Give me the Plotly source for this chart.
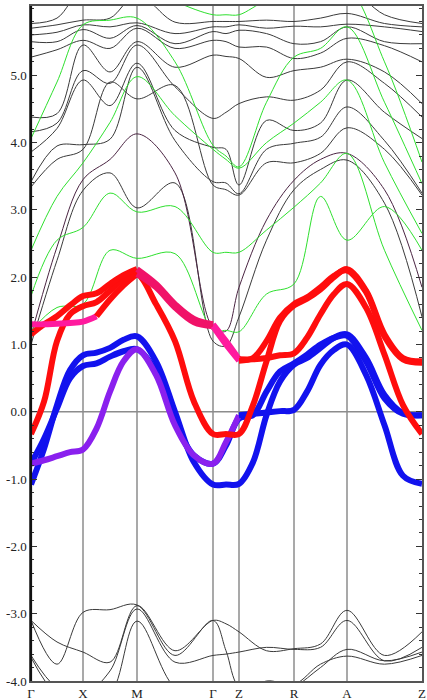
import plotly.graph_objects as go

# high-symmetry path (k distance along path)
K_LABELS = ["Γ", "X", "M", "Γ", "Z", "R", "A", "Z"]
K_NODES = [0, 52, 106, 182, 208, 263, 316, 391]

# k grids
K_FINE = [0, 13, 26, 39, 52, 65.5, 79, 92.5, 106, 125, 144, 163, 182, 195, 208,
          222, 235.5, 249, 263, 276, 289.5, 303, 316, 335, 353.5, 372, 391]
K_COARSE = [0, 26, 52, 79, 106, 144, 182, 195, 208, 235.5, 263, 289.5, 316, 353.5, 391]

# fat (projected) bands, fine grid
RED_1 = [-0.33, 0.15, 1.05, 1.45, 1.57, 1.63, 1.80, 1.97, 2.05, 1.60, 1.05, 0.15, -0.33, -0.33, -0.33,
         0.10, 0.75, 1.35, 1.58, 1.68, 1.82, 2.00, 2.12, 1.80, 1.15, 0.80, 0.75]
RED_2 = [1.15, 1.30, 1.42, 1.58, 1.72, 1.76, 1.90, 2.03, 2.12, 1.90, 1.60, 1.38, 1.30, 1.05, 0.78,
         0.78, 0.80, 0.84, 0.87, 1.10, 1.45, 1.75, 1.90, 1.55, 0.85, 0.10, -0.33]
PINK_1 = [1.30, 1.30, 1.31, 1.32, 1.34, 1.42, 1.67, 1.88, 2.05, 1.85, 1.55, 1.33, 1.27, 1.00, 0.76,
          0.80, 1.05, 1.40, 1.60, 1.70, 1.85, 2.02, 2.10, 1.78, 1.12, 0.78, 0.73]
BLUE_1 = [-1.08, -0.55, 0.10, 0.62, 0.84, 0.88, 0.95, 1.07, 1.12, 0.75, 0.00, -0.75, -1.08, -1.08, -1.07,
          -0.75, -0.05, 0.45, 0.70, 0.80, 0.95, 1.10, 1.15, 0.80, 0.25, -0.02, -0.05]
BLUE_2 = [-0.77, -0.40, 0.05, 0.50, 0.68, 0.72, 0.82, 0.90, 0.93, 0.60, -0.15, -0.65, -0.77, -0.50, -0.10,
          -0.05, 0.30, 0.60, 0.72, 0.85, 1.00, 1.10, 1.13, 0.75, 0.20, -0.03, -0.05]
PURPLE_1 = [-0.77, -0.72, -0.66, -0.60, -0.56, -0.25, 0.30, 0.75, 0.93, 0.55, -0.20, -0.65, -0.77, -0.45, -0.05,
            -0.03, -0.01, 0.01, 0.03, 0.30, 0.70, 0.92, 1.00, 0.55, -0.20, -0.95, -1.07]

# thin bands, coarse grid (gray)
GRAY_UP = [
    [1.00, 2.25, 3.29, 3.55, 3.03, 3.40, 1.05, 0.98, 1.41, 2.55, 3.30, 3.60, 3.74, 3.10, 1.41],
    [1.13, 2.45, 3.45, 3.75, 4.13, 3.55, 1.25, 1.20, 1.85, 2.85, 3.44, 3.75, 3.84, 3.30, 1.85],
    [3.34, 3.75, 3.90, 4.90, 4.65, 4.85, 3.37, 3.30, 3.22, 3.70, 3.70, 3.84, 4.22, 3.90, 3.22],
    [3.42, 3.95, 3.97, 4.05, 5.12, 4.03, 3.42, 3.40, 3.24, 3.90, 3.99, 4.08, 4.53, 4.03, 3.25],
    [3.86, 4.21, 4.93, 4.55, 5.18, 4.18, 3.93, 3.90, 3.37, 4.33, 4.18, 4.29, 4.93, 4.45, 4.06],
    [4.16, 4.29, 5.07, 4.88, 5.45, 4.83, 4.36, 4.45, 4.58, 4.68, 4.63, 4.78, 5.20, 4.88, 4.38],
    [4.38, 4.43, 5.45, 5.05, 5.50, 5.12, 5.30, 5.28, 5.25, 4.97, 5.07, 5.12, 5.24, 5.05, 4.58],
    [5.27, 5.38, 5.52, 5.40, 5.70, 5.40, 5.52, 5.50, 5.42, 5.42, 5.25, 5.33, 5.55, 5.44, 5.20],
    [5.50, 5.50, 5.68, 5.55, 5.74, 5.47, 5.65, 5.62, 5.67, 5.62, 5.47, 5.50, 5.72, 5.50, 5.47],
    [5.60, 5.64, 5.75, 5.72, 5.78, 5.62, 5.72, 5.72, 5.75, 5.70, 5.73, 5.72, 5.76, 5.72, 5.65],
    [5.70, 5.75, 5.82, 5.85, 6.20, 5.79, 5.80, 5.80, 5.80, 5.82, 5.80, 5.85, 5.92, 5.77, 5.72],
    [5.77, 5.85, 6.30, 6.30, 6.50, 6.10, 6.20, 6.20, 6.20, 6.20, 6.20, 6.20, 6.30, 5.90, 5.77],
]
GRAY_LOW = [
    [-3.10, -3.42, -3.57, -3.72, -2.88, -3.55, -3.10, -3.15, -3.27, -3.55, -3.52, -3.45, -2.95, -3.62, -3.27],
    [-3.10, -3.75, -2.98, -2.94, -2.87, -3.62, -3.10, -3.55, -4.10, -4.30, -4.10, -3.80, -3.53, -3.70, -3.57],
    [-3.62, -4.10, -4.20, -3.85, -2.93, -3.72, -3.62, -3.60, -3.57, -3.50, -3.53, -3.50, -3.10, -3.70, -3.50],
    [-3.65, -4.20, -4.30, -4.20, -3.11, -4.10, -4.30, -4.30, -4.20, -4.00, -4.05, -3.75, -3.63, -3.75, -3.62],
]
# thin bands, coarse grid (green)
GREEN_UP = [
    [1.20, 1.55, 1.60, 2.40, 2.28, 2.35, 1.21, 1.21, 1.19, 1.75, 1.90, 3.20, 2.55, 3.05, 2.40],
    [1.72, 2.55, 2.74, 3.25, 2.97, 3.05, 2.37, 2.37, 2.37, 2.70, 3.04, 3.40, 3.84, 2.40, 1.21],
    [2.40, 3.20, 3.70, 4.30, 4.98, 4.40, 3.90, 3.75, 3.62, 4.00, 4.29, 4.60, 4.93, 3.70, 2.65],
    [4.06, 4.90, 5.75, 5.82, 5.85, 5.20, 3.96, 3.80, 3.64, 4.60, 5.27, 5.40, 5.72, 4.60, 3.39],
    [6.40, 6.40, 6.40, 6.40, 6.40, 6.10, 5.90, 5.90, 5.90, 6.10, 6.10, 6.20, 6.30, 5.20, 3.71],
]

Y_TICKS = [-4, -3, -2, -1, 0, 1, 2, 3, 4, 5]
Y_TICK_TEXT = ["-4.0", "-3.0", "-2.0", "-1.0", "0.0", "1.0", "2.0", "3.0", "4.0", "5.0"]

RED = "#ff0d0d"
PINK = "#ff1a9e"
CRIMSON = "#f01268"
BLUE = "#1212ee"
PURPLE = "#8a20ee"

fig = go.Figure()


def add_line(xs, ys, color, width):
    fig.add_trace(go.Scatter(x=xs, y=ys, mode="lines",
                             line=dict(color=color, width=width, shape="spline", smoothing=1.0),
                             hoverinfo="skip", showlegend=False))


def add_pieces(k, e, pieces, width):
    for k0, k1, col in pieces:
        idx = [i for i, kk in enumerate(k) if k0 <= kk <= k1]
        add_line([k[i] for i in idx], [e[i] for i in idx], col, width)


# high-symmetry vertical lines and zero line
for kn in K_NODES[1:-1]:
    fig.add_shape(type="line", x0=kn, x1=kn, y0=0, y1=1, yref="paper",
                  line=dict(color="#8c8c8c", width=1.5), layer="below")
fig.add_shape(type="line", x0=0, x1=1, xref="paper", y0=0, y1=0,
              line=dict(color="#8c8c8c", width=1.5), layer="below")
# darker left axis spine
fig.add_shape(type="line", x0=0, x1=0, xref="paper", y0=0, y1=1, yref="paper",
              line=dict(color="#111", width=2.2), layer="above")

for i, b in enumerate(GRAY_UP):
    add_line(K_COARSE, b, "#4a2442" if i == 1 else "#3a3a3a", 1)
for b in GRAY_LOW:
    add_line(K_COARSE, b, "#3a3a3a", 1)
for b in GREEN_UP:
    add_line(K_COARSE, b, "#2ee02e", 1)

add_pieces(K_FINE, BLUE_1, [(0, 391, BLUE)], 6)
add_pieces(K_FINE, BLUE_2, [(0, 391, BLUE)], 6)
add_pieces(K_FINE, PURPLE_1, [(0, 208, PURPLE), (208, 391, BLUE)], 6)
add_pieces(K_FINE, RED_1, [(0, 391, RED)], 6)
add_pieces(K_FINE, RED_2, [(0, 106, RED), (106, 182, CRIMSON), (182, 208, PINK), (208, 391, RED)], 6)
add_pieces(K_FINE, PINK_1, [(0, 65.5, PINK), (65.5, 106, RED), (106, 182, CRIMSON), (182, 208, PINK), (208, 391, RED)], 6)

serif = "Liberation Serif, Times New Roman, serif"
fig.update_layout(
    width=427, height=700,
    margin=dict(l=31, r=5, t=6, b=19, autoexpand=False),
    paper_bgcolor="white", plot_bgcolor="white",
    font=dict(family=serif, size=13, color="#222"),
    xaxis=dict(range=[0, 391], tickvals=K_NODES, ticktext=K_LABELS, showgrid=False, zeroline=False,
               showline=True, linecolor="#555", linewidth=1.5, mirror=True, ticks="",
               automargin=False, tickfont=dict(family=serif, size=13, color="#222")),
    yaxis=dict(range=[-4.0, 6.03], tickvals=Y_TICKS, ticktext=Y_TICK_TEXT, showgrid=False, zeroline=False,
               showline=True, linecolor="#555", linewidth=1.5, mirror="ticks",
               ticks="inside", ticklen=6, tickcolor="#333", automargin=False,
               minor=dict(dtick=0.2, tick0=0, ticks="inside", ticklen=3, tickcolor="#333", showgrid=False),
               tickfont=dict(family=serif, size=13, color="#222")),
)

fig.write_html("out.html", config={"displayModeBar": False},
               post_script="document.body.style.margin='0';document.body.style.overflow='hidden';")
